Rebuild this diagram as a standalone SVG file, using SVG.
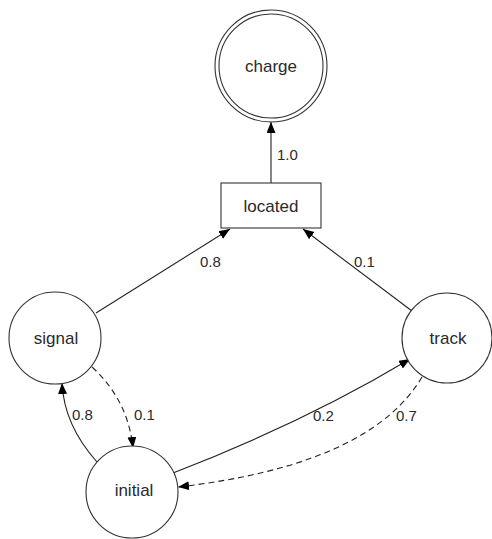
<svg xmlns="http://www.w3.org/2000/svg" width="492" height="539" viewBox="0 0 492 539">
<style>
.node{fill:#fff;stroke:#333;stroke-width:1.1}
.lbl{font-family:"Liberation Sans",Arial,sans-serif;font-size:17px;fill:#2a2a2a;text-anchor:middle}
.elbl{font-family:"Liberation Sans",Arial,sans-serif;font-size:15px;fill:#2a2a2a}
.edge{fill:none;stroke:#222;stroke-width:1.1}
.dash{stroke-dasharray:6,4}
</style>
<defs>
<marker id="arr" markerWidth="13" markerHeight="10" refX="11" refY="4.5" orient="auto" markerUnits="userSpaceOnUse">
<path d="M0,0 L11,4.5 L0,9 z" fill="#000"/>
</marker>
</defs>
<rect width="492" height="539" fill="#fff"/>
<g id="edges">
<path class="edge" d="M271,183 L271,122" marker-end="url(#arr)"/>
<text class="elbl" x="277" y="160">1.0</text>
<path class="edge" d="M96,313 L230,229" marker-end="url(#arr)"/>
<text class="elbl" x="200" y="267">0.8</text>
<path class="edge" d="M412,311 L303,229" marker-end="url(#arr)"/>
<text class="elbl" x="354" y="267">0.1</text>
<path class="edge" d="M97,462 Q64,425 62,383" marker-end="url(#arr)"/>
<text class="elbl" x="72" y="420">0.8</text>
<path class="edge dash" d="M92,367 Q128,400 133,448" marker-end="url(#arr)"/>
<text class="elbl" x="134" y="420">0.1</text>
<path class="edge" d="M173,473 Q305,422 410,359" marker-end="url(#arr)"/>
<text class="elbl" x="313" y="421">0.2</text>
<path class="edge dash" d="M422,377 Q370,465 178,487" marker-end="url(#arr)"/>
<text class="elbl" x="396" y="421">0.7</text>
</g>
<g id="charge">
<circle class="node" cx="271" cy="66" r="56"/>
<circle class="node" cx="271" cy="66" r="52"/>
<text class="lbl" x="271" y="72">charge</text>
</g>
<g id="located">
<rect class="node" x="221" y="183" width="100" height="45"/>
<text class="lbl" x="271" y="212">located</text>
</g>
<g id="signal">
<circle class="node" cx="55" cy="338" r="46"/>
<text class="lbl" x="56" y="344">signal</text>
</g>
<g id="track">
<circle class="node" cx="447" cy="338" r="45"/>
<text class="lbl" x="448" y="344">track</text>
</g>
<g id="initial">
<circle class="node" cx="132" cy="492" r="46"/>
<text class="lbl" x="134" y="496">initial</text>
</g>
</svg>
